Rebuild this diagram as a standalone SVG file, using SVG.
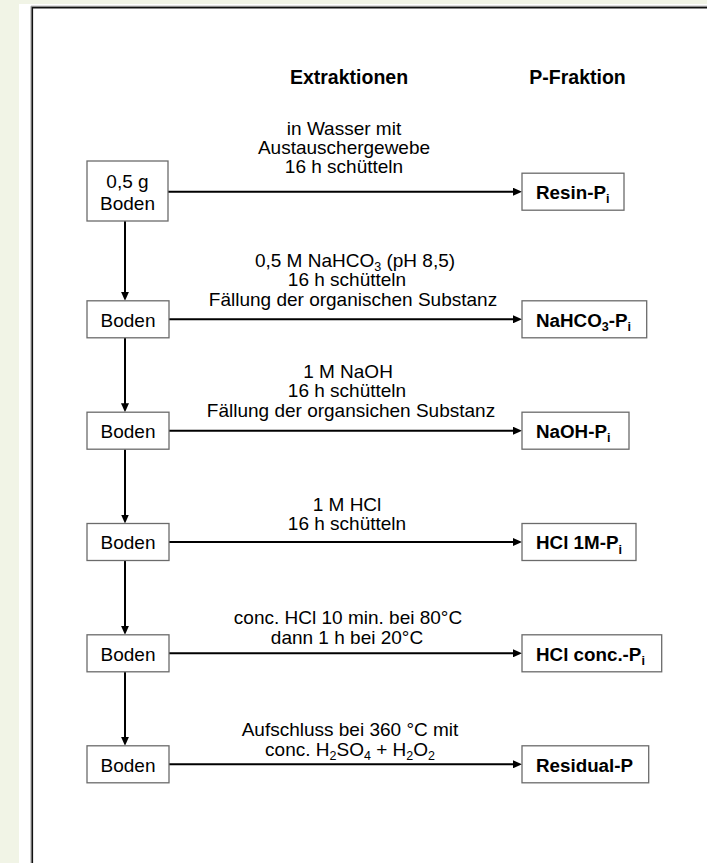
<svg xmlns="http://www.w3.org/2000/svg" width="707" height="863" viewBox="0 0 707 863">
<defs>
<marker id="ah" markerUnits="userSpaceOnUse" viewBox="0 -4 9 8" markerWidth="9" markerHeight="8" refX="1" refY="0" orient="auto">
<path d="M0,-4 L9,0 L0,4 z" fill="#000"/>
</marker>
<style>
.box{fill:#fff;stroke:#6b6b6b;stroke-width:1.3}
.t{font-family:"Liberation Sans",Arial,sans-serif;font-size:19px;fill:#000}
.b{font-weight:bold;font-size:18.8px}
.h{font-weight:bold;font-size:19.5px}
.m{text-anchor:middle}
.sub{font-size:12.5px}
.con{stroke:#000;stroke-width:2;fill:none}
</style>
</defs>
<rect x="0" y="0" width="707" height="863" fill="#f1f4e6"/>
<rect x="19" y="4" width="688" height="859" fill="#fff"/>
<path d="M31,863 V6.2 H707" fill="none" stroke="#999" stroke-width="1"/>
<path d="M32.3,863 V7.6 H707" fill="none" stroke="#111" stroke-width="1.6"/>

<g id="headers">
<text class="t h m" x="349" y="84">Extraktionen</text>
<text class="t h m" x="577.5" y="84">P-Fraktion</text>
</g>

<g id="connectors">
<line class="con" x1="168" y1="191.7" x2="514" y2="191.7" marker-end="url(#ah)"/>
<line class="con" x1="169" y1="319.3" x2="514" y2="319.3" marker-end="url(#ah)"/>
<line class="con" x1="169" y1="430.7" x2="514" y2="430.7" marker-end="url(#ah)"/>
<line class="con" x1="169" y1="542" x2="514" y2="542" marker-end="url(#ah)"/>
<line class="con" x1="169" y1="653.3" x2="514" y2="653.3" marker-end="url(#ah)"/>
<line class="con" x1="169" y1="764.3" x2="514" y2="764.3" marker-end="url(#ah)"/>
<line class="con" x1="125" y1="221" x2="125" y2="292.8" marker-end="url(#ah)"/>
<line class="con" x1="125" y1="337.8" x2="125" y2="404.2" marker-end="url(#ah)"/>
<line class="con" x1="125" y1="449.2" x2="125" y2="515.5" marker-end="url(#ah)"/>
<line class="con" x1="125" y1="560.5" x2="125" y2="626.8" marker-end="url(#ah)"/>
<line class="con" x1="125" y1="671.8" x2="125" y2="737.8" marker-end="url(#ah)"/>
</g>

<g id="labels">
<text class="t m" x="344" y="134.5">in Wasser mit</text>
<text class="t m" x="344" y="153.5">Austauschergewebe</text>
<text class="t m" x="344" y="172.5">16 h schütteln</text>

<text class="t m" x="355" y="266.5">0,5 M NaHCO<tspan class="sub" dy="4">3</tspan><tspan dy="-4"> (pH 8,5)</tspan></text>
<text class="t m" x="347" y="286">16 h schütteln</text>
<text class="t m" x="353" y="305.5">Fällung der organischen Substanz</text>

<text class="t m" x="348" y="377.5">1 M NaOH</text>
<text class="t m" x="347" y="397">16 h schütteln</text>
<text class="t m" x="351" y="416.5">Fällung der organsichen Substanz</text>

<text class="t m" x="347" y="510.5">1 M HCl</text>
<text class="t m" x="347" y="530">16 h schütteln</text>

<text class="t m" x="348" y="623.5">conc. HCl 10 min. bei 80°C</text>
<text class="t m" x="347" y="643.5">dann 1 h bei 20°C</text>

<text class="t m" x="350" y="735.5">Aufschluss bei 360 °C mit</text>
<text class="t m" x="350" y="755.5">conc. H<tspan class="sub" dy="4">2</tspan><tspan dy="-4">SO</tspan><tspan class="sub" dy="4">4</tspan><tspan dy="-4"> + H</tspan><tspan class="sub" dy="4">2</tspan><tspan dy="-4">O</tspan><tspan class="sub" dy="4">2</tspan></text>
</g>

<g id="soil0">
<rect class="box" x="87" y="161" width="81" height="60"/>
<text class="t m" x="127.5" y="187.7">0,5 g</text>
<text class="t m" x="127.5" y="210">Boden</text>
</g>
<g id="soil1"><rect class="box" x="87" y="300.8" width="82" height="37"/><text class="t m" x="128" y="326.5">Boden</text></g>
<g id="soil2"><rect class="box" x="87" y="412.2" width="82" height="37"/><text class="t m" x="128" y="437.9">Boden</text></g>
<g id="soil3"><rect class="box" x="87" y="523.5" width="82" height="37"/><text class="t m" x="128" y="549.2">Boden</text></g>
<g id="soil4"><rect class="box" x="87" y="634.8" width="82" height="37"/><text class="t m" x="128" y="660.5">Boden</text></g>
<g id="soil5"><rect class="box" x="87" y="745.8" width="82" height="37"/><text class="t m" x="128" y="771.5">Boden</text></g>

<g id="frac1"><rect class="box" x="522" y="173.2" width="102" height="37"/><text class="t b" x="536" y="198.9">Resin-P<tspan class="sub" dy="4.5">i</tspan></text></g>
<g id="frac2"><rect class="box" x="522" y="300.8" width="124.7" height="37"/><text class="t b" x="536" y="326.5">NaHCO<tspan class="sub" dy="4.5">3</tspan><tspan dy="-4.5">-P</tspan><tspan class="sub" dy="4.5">i</tspan></text></g>
<g id="frac3"><rect class="box" x="522" y="412.2" width="107" height="37"/><text class="t b" x="536" y="437.9">NaOH-P<tspan class="sub" dy="4.5">i</tspan></text></g>
<g id="frac4"><rect class="box" x="522" y="523.5" width="114" height="37"/><text class="t b" x="536" y="549.2">HCl 1M-P<tspan class="sub" dy="4.5">i</tspan></text></g>
<g id="frac5"><rect class="box" x="522" y="634.8" width="139.7" height="37"/><text class="t b" x="536" y="660.5">HCl conc.-P<tspan class="sub" dy="4.5">i</tspan></text></g>
<g id="frac6"><rect class="box" x="522" y="745.8" width="126.7" height="37"/><text class="t b" x="536" y="771.5">Residual-P</text></g>
</svg>
